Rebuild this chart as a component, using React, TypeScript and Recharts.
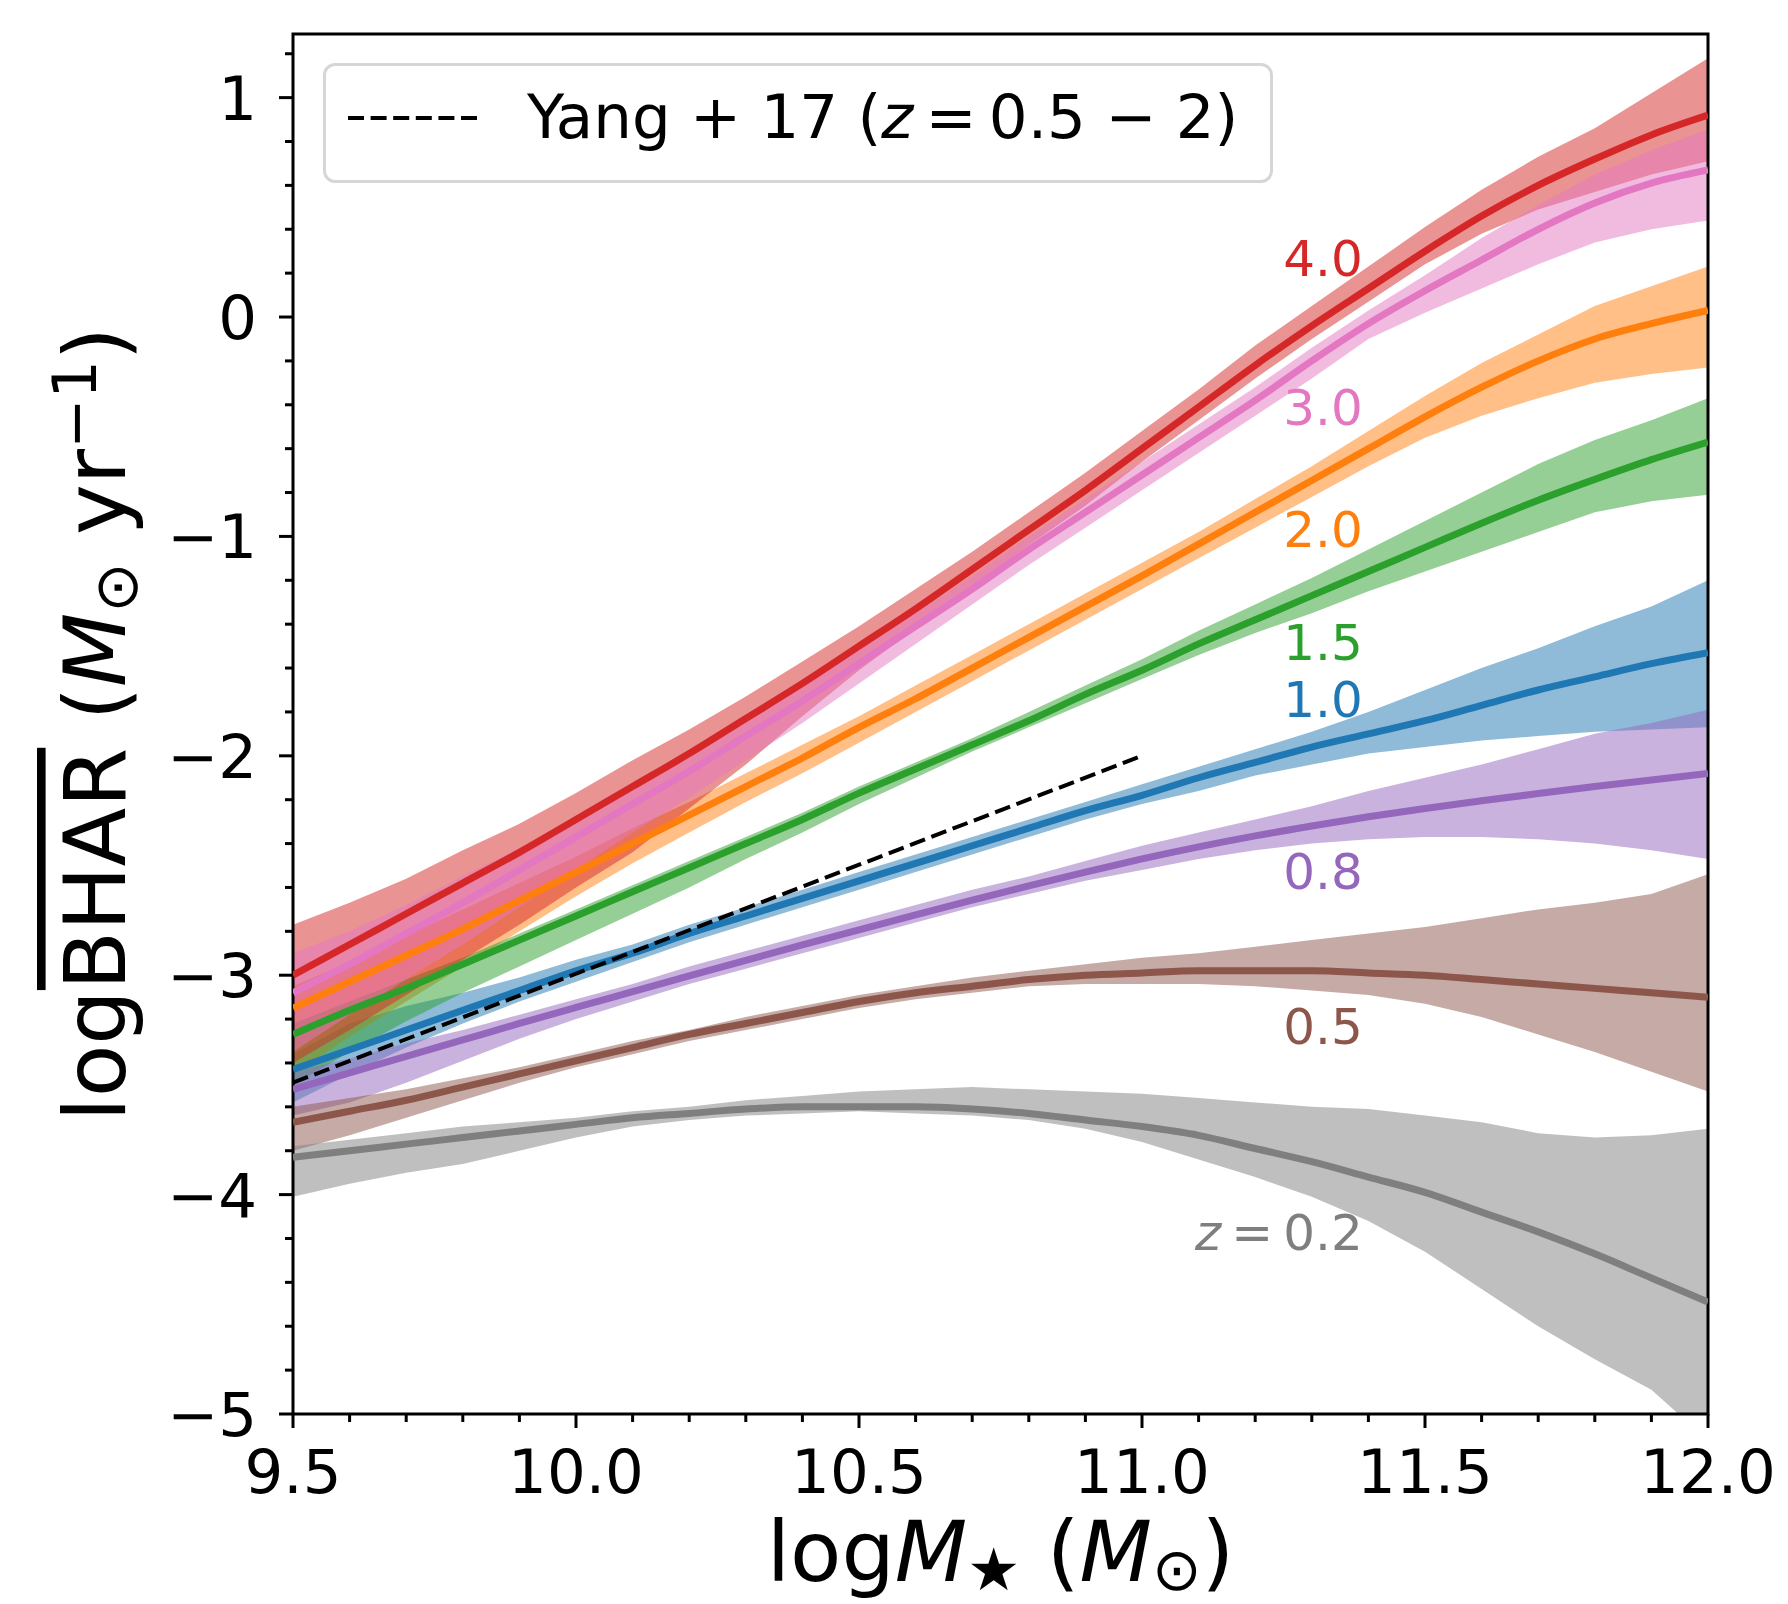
import React from "react";
import {
  ComposedChart,
  Area,
  Line,
  XAxis,
  YAxis,
  ReferenceArea,
  ReferenceDot,
  Legend,
} from "recharts";

const FONT = "DejaVu Sans";

// stellar mass grid (log M*)
const mass = [
  9.5, 9.6, 9.7, 9.8, 9.9, 10.0, 10.1, 10.2, 10.3, 10.4, 10.5, 10.6, 10.7,
  10.8, 10.9, 11.0, 11.1, 11.2, 11.3, 11.4, 11.5, 11.6, 11.7, 11.8, 11.9, 12.0,
];

// z = 4.0
const z40Mean = [-3.0, -2.86, -2.72, -2.58, -2.44, -2.29, -2.14, -1.99, -1.83, -1.67, -1.5, -1.33, -1.15, -0.97, -0.79, -0.6, -0.41, -0.22, -0.04, 0.13, 0.3, 0.46, 0.6, 0.72, 0.83, 0.92];
const z40Lo = [-3.4, -3.25, -3.09, -2.93, -2.77, -2.6, -2.44, -2.24, -2.04, -1.82, -1.61, -1.42, -1.23, -1.04, -0.86, -0.66, -0.47, -0.28, -0.1, 0.07, 0.24, 0.38, 0.49, 0.57, 0.65, 0.71];
const z40Hi = [-2.77, -2.67, -2.56, -2.43, -2.31, -2.17, -2.02, -1.88, -1.73, -1.57, -1.41, -1.24, -1.07, -0.89, -0.71, -0.52, -0.33, -0.13, 0.05, 0.23, 0.41, 0.58, 0.73, 0.86, 1.02, 1.18];

// z = 3.0
const z30Mean = [-3.08, -2.95, -2.81, -2.67, -2.52, -2.37, -2.22, -2.07, -1.91, -1.75, -1.58, -1.41, -1.24, -1.06, -0.89, -0.72, -0.55, -0.38, -0.2, -0.03, 0.12, 0.26, 0.4, 0.52, 0.61, 0.67];
const z30Lo = [-3.35, -3.18, -3.02, -2.86, -2.69, -2.52, -2.35, -2.19, -2.02, -1.85, -1.67, -1.49, -1.31, -1.13, -0.96, -0.79, -0.62, -0.45, -0.28, -0.1, 0.02, 0.13, 0.24, 0.34, 0.4, 0.44];
const z30Hi = [-2.9, -2.8, -2.68, -2.55, -2.42, -2.28, -2.14, -1.99, -1.84, -1.68, -1.52, -1.35, -1.18, -1.0, -0.83, -0.66, -0.49, -0.32, -0.14, 0.03, 0.19, 0.36, 0.51, 0.65, 0.76, 0.855];

// z = 2.0
const z20Mean = [-3.15, -3.03, -2.91, -2.79, -2.66, -2.53, -2.4, -2.27, -2.14, -2.01, -1.87, -1.74, -1.6, -1.46, -1.32, -1.18, -1.035, -0.89, -0.745, -0.6, -0.455, -0.32, -0.2, -0.1, -0.03, 0.03];
const z20Lo = [-3.45, -3.28, -3.12, -2.96, -2.8, -2.64, -2.49, -2.35, -2.21, -2.08, -1.94, -1.8, -1.66, -1.52, -1.38, -1.24, -1.1, -0.96, -0.82, -0.68, -0.55, -0.45, -0.37, -0.3, -0.26, -0.23];
const z20Hi = [-3.05, -2.94, -2.82, -2.7, -2.58, -2.46, -2.33, -2.21, -2.08, -1.95, -1.82, -1.68, -1.54, -1.4, -1.26, -1.12, -0.98, -0.83, -0.68, -0.52, -0.36, -0.21, -0.08, 0.05, 0.14, 0.23];

// z = 1.5
const z15Mean = [-3.27, -3.16, -3.06, -2.95, -2.84, -2.73, -2.62, -2.51, -2.4, -2.29, -2.17, -2.06, -1.95, -1.84, -1.72, -1.61, -1.49, -1.38, -1.27, -1.16, -1.05, -0.94, -0.835, -0.74, -0.65, -0.57];
const z15Lo = [-3.5, -3.35, -3.21, -3.08, -2.96, -2.84, -2.72, -2.6, -2.47, -2.35, -2.22, -2.1, -1.98, -1.87, -1.76, -1.65, -1.54, -1.44, -1.35, -1.25, -1.16, -1.07, -0.98, -0.89, -0.84, -0.81];
const z15Hi = [-3.22, -3.12, -3.02, -2.92, -2.81, -2.7, -2.59, -2.48, -2.37, -2.26, -2.14, -2.03, -1.92, -1.8, -1.68, -1.56, -1.43, -1.31, -1.19, -1.06, -0.93, -0.8, -0.67, -0.56, -0.47, -0.37];

// z = 1.0
const z10Mean = [-3.43, -3.34, -3.25, -3.16, -3.07, -2.98, -2.9, -2.81, -2.73, -2.65, -2.57, -2.49, -2.41, -2.33, -2.25, -2.18, -2.1, -2.03, -1.96, -1.9, -1.84, -1.77, -1.7, -1.64, -1.58, -1.53];
const z10Lo = [-3.58, -3.45, -3.33, -3.22, -3.12, -3.03, -2.94, -2.85, -2.77, -2.69, -2.61, -2.53, -2.45, -2.37, -2.29, -2.22, -2.16, -2.09, -2.04, -1.99, -1.96, -1.93, -1.91, -1.89, -1.88, -1.87];
const z10Hi = [-3.36, -3.22, -3.14, -3.08, -3.01, -2.93, -2.86, -2.77, -2.69, -2.61, -2.53, -2.45, -2.37, -2.29, -2.21, -2.13, -2.05, -1.97, -1.89, -1.8, -1.7, -1.6, -1.51, -1.41, -1.32, -1.2];

// z = 0.8
const z08Mean = [-3.52, -3.445, -3.37, -3.295, -3.22, -3.147, -3.075, -3.003, -2.932, -2.862, -2.793, -2.725, -2.658, -2.593, -2.53, -2.47, -2.415, -2.365, -2.32, -2.278, -2.24, -2.205, -2.172, -2.14, -2.11, -2.08];
const z08Lo = [-3.64, -3.58, -3.49, -3.39, -3.29, -3.2, -3.12, -3.04, -2.97, -2.9, -2.83, -2.76, -2.69, -2.63, -2.57, -2.52, -2.47, -2.43, -2.4, -2.38, -2.37, -2.37, -2.38, -2.4, -2.43, -2.47];
const z08Hi = [-3.44, -3.38, -3.31, -3.25, -3.18, -3.11, -3.04, -2.96, -2.89, -2.82, -2.75, -2.68, -2.61, -2.55, -2.48, -2.41, -2.35, -2.29, -2.23, -2.16, -2.1, -2.04, -1.97, -1.9, -1.85, -1.79];

// z = 0.5
const z05Mean = [-3.67, -3.62, -3.57, -3.51, -3.45, -3.39, -3.33, -3.27, -3.22, -3.17, -3.12, -3.08, -3.05, -3.02, -3.0, -2.99, -2.98, -2.98, -2.98, -2.99, -3.0, -3.02, -3.04, -3.06, -3.08, -3.1];
const z05Lo = [-3.8, -3.73, -3.65, -3.57, -3.49, -3.42, -3.36, -3.3, -3.25, -3.2, -3.15, -3.11, -3.08, -3.05, -3.04, -3.04, -3.04, -3.05, -3.07, -3.09, -3.13, -3.19, -3.27, -3.35, -3.44, -3.53];
const z05Hi = [-3.6, -3.56, -3.52, -3.47, -3.42, -3.36, -3.3, -3.25, -3.19, -3.14, -3.09, -3.05, -3.01, -2.98, -2.95, -2.92, -2.9, -2.87, -2.84, -2.81, -2.78, -2.74, -2.7, -2.67, -2.63, -2.54];

// z = 0.2
const z02Mean = [-3.83, -3.8, -3.77, -3.74, -3.71, -3.68, -3.65, -3.63, -3.61, -3.6, -3.6, -3.6, -3.61, -3.63, -3.66, -3.69, -3.73, -3.79, -3.85, -3.92, -3.99, -4.08, -4.17, -4.27, -4.38, -4.49];
const z02Lo = [-4.01, -3.95, -3.9, -3.86, -3.8, -3.74, -3.69, -3.66, -3.64, -3.63, -3.62, -3.63, -3.64, -3.66, -3.7, -3.76, -3.84, -3.92, -4.01, -4.12, -4.26, -4.43, -4.6, -4.75, -4.89, -5.12];
const z02Hi = [-3.78, -3.75, -3.72, -3.69, -3.67, -3.65, -3.62, -3.6, -3.57, -3.55, -3.53, -3.52, -3.51, -3.52, -3.53, -3.54, -3.56, -3.58, -3.6, -3.61, -3.64, -3.67, -3.72, -3.74, -3.73, -3.7];

// Yang+17 relation
const yangMass = [9.5, 11.0];
const yangBhar = [-3.49, -2.0];

// curve labels
const labelText = ["4.0", "3.0", "2.0", "1.5", "1.0", "0.8", "0.5", "0.2"];
const labelY = [0.27, -0.41, -0.965, -1.48, -1.74, -2.525, -3.23, -4.17];
const labelColor = ["#d62728", "#e377c2", "#ff7f0e", "#2ca02c", "#1f77b4", "#9467bd", "#8c564b", "#7f7f7f"];
const labelX = 11.39;

// ticks
const xMajor = [9.5, 10.0, 10.5, 11.0, 11.5, 12.0];
const xTicks = [
  9.5, 9.6, 9.7, 9.8, 9.9, 10.0, 10.1, 10.2, 10.3, 10.4, 10.5, 10.6, 10.7,
  10.8, 10.9, 11.0, 11.1, 11.2, 11.3, 11.4, 11.5, 11.6, 11.7, 11.8, 11.9, 12.0,
];
const yMajor = [-5, -4, -3, -2, -1, 0, 1];
const yTicks = [
  -5, -4.8, -4.6, -4.4, -4.2, -4, -3.8, -3.6, -3.4, -3.2, -3, -2.8, -2.6, -2.4,
  -2.2, -2, -1.8, -1.6, -1.4, -1.2, -1, -0.8, -0.6, -0.4, -0.2, 0, 0.2, 0.4,
  0.6, 0.8, 1, 1.2,
];

// draw order follows the colour cycle
const series = [
  { id: "z10", color: "#1f77b4", mean: z10Mean, lo: z10Lo, hi: z10Hi },
  { id: "z20", color: "#ff7f0e", mean: z20Mean, lo: z20Lo, hi: z20Hi },
  { id: "z15", color: "#2ca02c", mean: z15Mean, lo: z15Lo, hi: z15Hi },
  { id: "z40", color: "#d62728", mean: z40Mean, lo: z40Lo, hi: z40Hi },
  { id: "z08", color: "#9467bd", mean: z08Mean, lo: z08Lo, hi: z08Hi },
  { id: "z05", color: "#8c564b", mean: z05Mean, lo: z05Lo, hi: z05Hi },
  { id: "z30", color: "#e377c2", mean: z30Mean, lo: z30Lo, hi: z30Hi },
  { id: "z02", color: "#7f7f7f", mean: z02Mean, lo: z02Lo, hi: z02Hi },
];

const rows = mass.map((m, i) => {
  const row: any = { m };
  series.forEach((s) => {
    row[s.id] = s.mean[i];
    row[s.id + "Band"] = [s.lo[i], s.hi[i]];
  });
  return row;
});

const yangRows = yangMass.map((m, i) => ({ m, y: yangBhar[i] }));

const isIn = (arr: number[], v: number) => arr.some((t) => Math.abs(t - v) < 1e-6);

function XTick(props: any) {
  const { x, y, payload } = props;
  const major = isIn(xMajor, payload.value);
  return (
    <g>
      <line x1={x} x2={x} y1={y} y2={y + (major ? 14 : 8)} stroke="#000" strokeWidth={3} />
      {major && (
        <text x={x} y={y + 79} textAnchor="middle" fontFamily={FONT} fontSize={61} fill="#000">
          {payload.value.toFixed(1)}
        </text>
      )}
    </g>
  );
}

function YTick(props: any) {
  const { x, y, payload } = props;
  const major = isIn(yMajor, payload.value);
  const v = Math.round(payload.value);
  return (
    <g>
      <line x1={x} x2={x - (major ? 14 : 8)} y1={y} y2={y} stroke="#000" strokeWidth={3} />
      {major && (
        <text x={x - 36} y={y} dy="0.36em" textAnchor="end" fontFamily={FONT} fontSize={61} fill="#000">
          {v < 0 ? "\u2212" + Math.abs(v) : String(v)}
        </text>
      )}
    </g>
  );
}

function XLabel(props: any) {
  const vb = props.viewBox || {};
  const cx = (vb.x ?? 293) + (vb.width ?? 1415) / 2;
  const y = (vb.y ?? 1414) + 167;
  return (
    <text x={cx} y={y} textAnchor="middle" fontFamily={FONT} fontSize={84} fill="#000">
      {"log"}
      <tspan fontStyle="italic">M</tspan>
      <tspan fontSize={59} dy={9}>{"\u2605"}</tspan>
      <tspan dy={-9}>{"\u00a0("}</tspan>
      <tspan fontStyle="italic">M</tspan>
      <tspan fontSize={59} dy={9}>{"\u2299"}</tspan>
      <tspan dy={-9}>{")"}</tspan>
    </text>
  );
}

function YLabel(props: any) {
  const vb = props.viewBox || {};
  const x = (vb.x ?? 93) + 32;
  const cy = (vb.y ?? 34) + (vb.height ?? 1380) / 2;
  return (
    <text
      x={x}
      y={cy}
      transform={`rotate(-90 ${x} ${cy})`}
      textAnchor="middle"
      fontFamily={FONT}
      fontSize={86}
      fill="#000"
    >
      {"log"}
      <tspan style={{ textDecoration: "overline" }}>BHAR</tspan>
      <tspan>{"\u00a0("}</tspan>
      <tspan fontStyle="italic">M</tspan>
      <tspan fontSize={60} dy={12}>{"\u2299"}</tspan>
      <tspan dy={-12}>{"\u00a0yr"}</tspan>
      <tspan fontSize={60} dy={-29}>{"\u22121"}</tspan>
      <tspan dy={29}>{")"}</tspan>
    </text>
  );
}

function curveLabel(text: string, color: string, withZ: boolean) {
  return (props: any) => {
    const vb = props.viewBox || {};
    const x = vb.x ?? 0;
    const y = (vb.y ?? 0) + (vb.height ?? 0) / 2;
    return (
      <text x={x} y={y} dy="0.36em" textAnchor="end" fontFamily={FONT} fontSize={50} fill={color}>
        {withZ && <tspan fontStyle="italic">z</tspan>}
        {withZ ? "\u2009=\u2009" + text : text}
      </text>
    );
  };
}

function YangLegend() {
  return (
    <div
      style={{
        width: 950,
        height: 120,
        boxSizing: "border-box",
        border: "3px solid #d6d6d6",
        borderRadius: 12,
        background: "rgba(255,255,255,0.8)",
        position: "relative",
      }}
    >
      <svg width={944} height={114} style={{ position: "absolute", left: 0, top: 0 }}>
        <line x1={22} x2={151} y1={52} y2={52} stroke="#000" strokeWidth={4} strokeDasharray="16 6.6" />
        <text x={201} y={72} fontFamily={FONT} fontSize={61} fill="#000">
          {"Yang + 17 ("}
          <tspan fontStyle="italic">z</tspan>
          {"\u2009=\u20090.5 \u2212 2)"}
        </text>
      </svg>
    </div>
  );
}

export default function App() {
  return (
    <div style={{ position: "absolute", left: 0, top: 0, width: 1788, height: 1604, background: "#fff" }}>
      <ComposedChart
        width={1788}
        height={1604}
        data={rows}
        margin={{ top: 34, right: 80, bottom: 40, left: 93 }}
      >
        <XAxis
          dataKey="m"
          type="number"
          domain={[9.5, 12]}
          allowDataOverflow
          ticks={xTicks}
          interval={0}
          tick={XTick}
          tickLine={false}
          axisLine={false}
          tickSize={0}
          tickMargin={0}
          height={150}
          label={XLabel}
        />
        <YAxis
          type="number"
          domain={[-5, 1.29]}
          allowDataOverflow
          ticks={yTicks}
          interval={0}
          tick={YTick}
          tickLine={false}
          axisLine={false}
          tickSize={0}
          tickMargin={0}
          width={200}
          label={YLabel}
        />
        {series.flatMap((s) => [
          <Area
            key={s.id + "Band"}
            dataKey={s.id + "Band"}
            type="linear"
            fill={s.color}
            fillOpacity={0.5}
            stroke="none"
            dot={false}
            activeDot={false}
            isAnimationActive={false}
          />,
          <Line
            key={s.id}
            dataKey={s.id}
            type="monotone"
            stroke={s.color}
            strokeWidth={7}
            dot={false}
            activeDot={false}
            isAnimationActive={false}
          />,
        ])}
        <Line
          data={yangRows}
          dataKey="y"
          type="linear"
          stroke="#000"
          strokeWidth={4}
          strokeDasharray="16 6.8"
          dot={false}
          activeDot={false}
          isAnimationActive={false}
        />
        {labelText.map((t, i) => (
          <ReferenceDot
            key={"lab" + i}
            x={labelX}
            y={labelY[i]}
            r={0}
            fill="none"
            stroke="none"
            ifOverflow="visible"
            label={curveLabel(t, labelColor[i], i === labelText.length - 1)}
          />
        ))}
        <ReferenceArea
          x1={9.5}
          x2={12}
          y1={-5}
          y2={1.29}
          fill="none"
          stroke="#000"
          strokeWidth={3}
          ifOverflow="visible"
        />
        <Legend
          layout="horizontal"
          verticalAlign="middle"
          align="center"
          wrapperStyle={{ left: 323, top: 63, width: 950, height: 120 }}
          content={() => <YangLegend />}
        />
      </ComposedChart>
    </div>
  );
}
